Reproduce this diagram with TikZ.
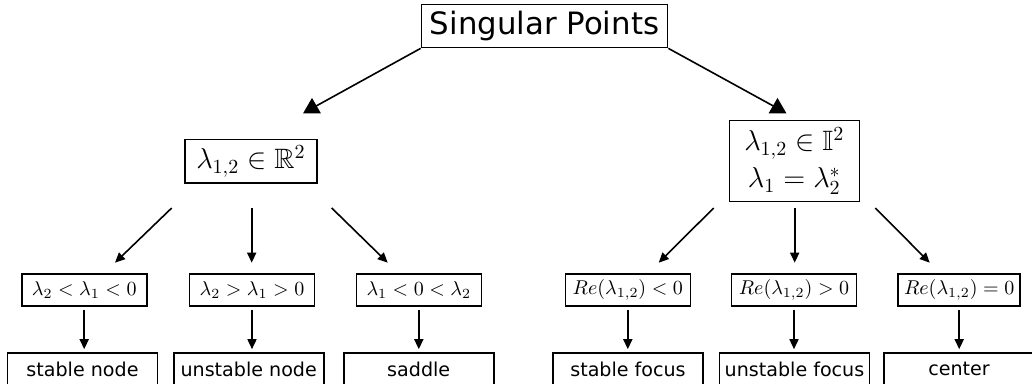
\documentclass[tikz,border=0pt]{standalone}
\usepackage{amsmath,amssymb}
\usepackage[no-math]{fontspec}
\newfontfamily\dejavu{DejaVu Sans}
\usetikzlibrary{arrows.meta,shapes.geometric}

\begin{document}
\begin{tikzpicture}[
    x=0.5pt, y=-0.5pt,
    title/.style={draw, line width=0.8pt, inner xsep=4.25pt, minimum height=19pt,
                  font=\dejavu\fontsize{15.4}{18}\selectfont},
    kind/.style={draw, line width=0.8pt, inner sep=3pt, align=center,
                 font=\fontsize{14}{18.5}\selectfont},
    cond/.style={draw, line width=0.8pt, inner sep=2.5pt, minimum width=62.5pt,
                 minimum height=16pt, font=\fontsize{10.3}{12}\selectfont},
    res/.style={draw, line width=0.8pt, inner sep=2.5pt, minimum width=75pt,
                minimum height=16pt, font=\dejavu\fontsize{9.55}{11}\selectfont},
    marker/.style={regular polygon, regular polygon sides=3, fill=black,
                   inner sep=0pt, minimum size=10.4pt},
    arr/.style={-{Triangle[length=5pt,width=4.5pt]}, line width=0.8pt}
]
\useasboundingbox (0,0) rectangle (1032,384);
\clip (0,0) rectangle (1032,384);

% top
\node[title] (sp) at (544.5,26) {Singular Points};

% two kinds of eigenvalues
\node[kind, minimum width=66pt, minimum height=21pt] (real) at (251,161.2) {$\lambda_{1,2}\in\mathbb{R}^2$};
\node[kind, minimum width=65pt, minimum height=40.5pt] (cplx) at (794.3,161.2) {$\lambda_{1,2}\in\mathbb{I}^2$\\$\lambda_1=\lambda_2^*$};

\draw[line width=0.8pt] (sp.south west) -- (312,108.3) node[marker] (mkl) {};
\draw[line width=0.8pt] (sp.south east) -- (777.5,108.3) node[marker] (mkr) {};

% conditions
\node[cond] (a1) at (84.2,290) {$\lambda_2<\lambda_1<0$};
\node[cond] (a2) at (252,290) {$\lambda_2>\lambda_1>0$};
\node[cond] (a3) at (418.8,290) {$\lambda_1<0<\lambda_2$};
\node[cond] (b1) at (627.8,290) {$Re(\lambda_{1,2})<0$};
\node[cond] (b2) at (794,290) {$Re(\lambda_{1,2})>0$};
\node[cond, minimum width=61pt] (b3) at (959.2,290) {$Re(\lambda_{1,2})=0$};

% results
\node[res] (c1) at (82.5,369) {stable node};
\node[res] (c2) at (248.7,369) {unstable node};
\node[res] (c3) at (418.7,369) {saddle};
\node[res] (d1) at (628,369) {stable focus};
\node[res] (d2) at (794.5,369) {unstable focus};
\node[res] (d3) at (959,369) {center};

% fan arrows
\coordinate (rs1) at (171.7,208);  \coordinate (re1) at (115,262.7);
\coordinate (rs2) at (251.7,208);  \coordinate (re2) at (251.7,262.7);
\coordinate (rs3) at (331.7,208);  \coordinate (re3) at (387.7,262.7);
\coordinate (cs1) at (713.7,208);  \coordinate (ce1) at (658.7,262.7);
\coordinate (cs2) at (794.7,208);  \coordinate (ce2) at (794.7,262.7);
\coordinate (cs3) at (875.3,208);  \coordinate (ce3) at (929.7,262.7);
\foreach \i in {1,2,3} {
  \draw[arr] (rs\i) -- (re\i);
  \draw[arr] (cs\i) -- (ce\i);
}

% down to results
\foreach \u/\v in {a1/c1,a2/c2,a3/c3,b1/d1,b2/d2,b3/d3}
  \draw[arr, shorten <=1.5pt, shorten >=1.5pt] (\u.south) -- (\u.south |- \v.north);

\end{tikzpicture}
\end{document}
